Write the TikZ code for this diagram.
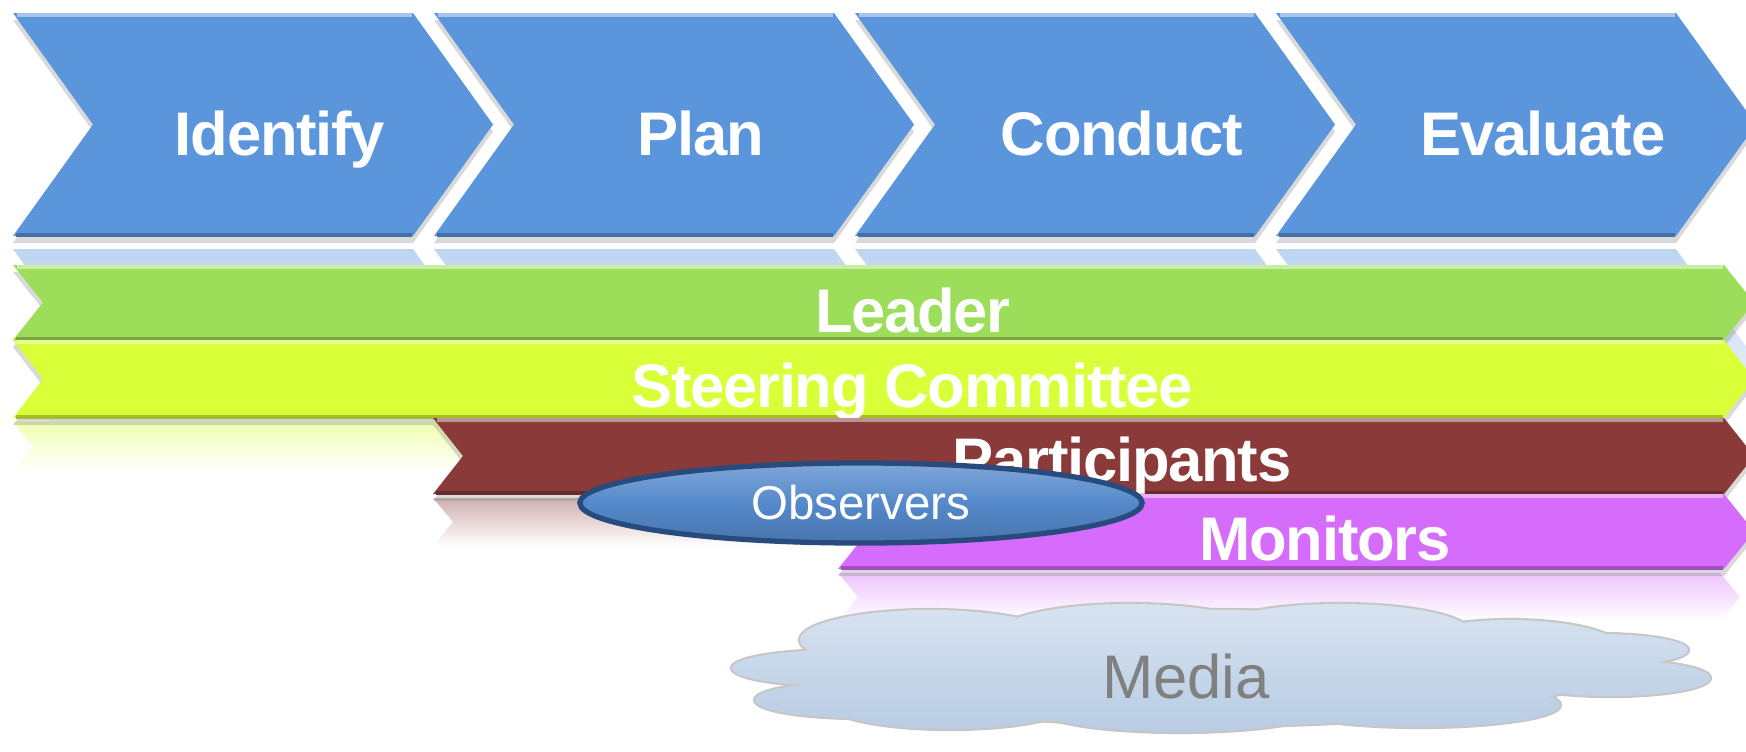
\documentclass[tikz,border=0pt]{standalone}
\usepackage{fontspec}
\setmainfont{Liberation Sans}
\newfontfamily\tightfont[LetterSpace=-2]{Liberation Sans}
\usetikzlibrary{shapes.geometric, positioning, shadows}

\definecolor{stageblue}{RGB}{91,150,220}
\definecolor{leadergreen}{RGB}{156,222,90}
\definecolor{steeringyellow}{RGB}{216,255,56}
\definecolor{participantred}{RGB}{139,58,58}
\definecolor{monitorviolet}{RGB}{213,108,251}
\definecolor{observerblue}{RGB}{85,137,203}
\definecolor{observeredge}{RGB}{40,75,125}
\definecolor{mediablue}{RGB}{184,204,228}
\definecolor{mediagray}{RGB}{128,128,128}

% arrow band: colour, left x, top y, height, depth of point, x of point
\newcommand{\band}[6]{%
  \fill[#1, drop shadow={opacity=.3, shadow xshift=0pt, shadow yshift=-2pt}]
    (#2,#3) -- ({#6-#5},#3) -- (#6,{#3+#4/2}) -- ({#6-#5},{#3+#4})
    -- (#2,{#3+#4}) -- ({#2+#5},{#3+#4/2}) -- cycle;
  \draw[#1!55!white, line width=1pt] ({#2+4},{#3+2}) -- ({#6-#5-1},{#3+2});
  \draw[#1!75!black, line width=1pt] ({#2+3},{#3+#4-1}) -- ({#6-#5-1},{#3+#4-1});
}
% faded mirror image under a band
\newcommand{\bandreflect}[6]{%
  \shade[top color=#1!40!white, bottom color=white]
    (#2,#3) -- ({#6-#5},#3) -- (#6,{#3+#4/2}) -- ({#6-#5},{#3+#4})
    -- (#2,{#3+#4}) -- ({#2+#5},{#3+#4/2}) -- cycle;
}

\begin{document}
\begin{tikzpicture}[x=0.01cm, y=-0.01cm]
    \tikzstyle{stagetext} = [font=\tightfont\bfseries\fontsize{17.5}{20}\selectfont, text=white, anchor=base]
    \tikzstyle{roletext} = [font=\tightfont\bfseries\fontsize{17.5}{20}\selectfont, text=white, anchor=base]

    \useasboundingbox (0,0) rectangle (1746,751);

    % Stages
    \foreach \i in {0,...,3}
        \bandreflect{stageblue}{13+421*\i}{249}{223}{80}{493+421*\i};
    \foreach \i in {0,...,3}
        \band{stageblue}{13+421*\i}{13}{223}{80}{493+421*\i};
    \node[stagetext] (identify) at (280,155) {Identify};
    \node[stagetext] (plan) at (701,155) {Plan};
    \node[stagetext] (conduct) at (1122,155) {Conduct};
    \node[stagetext] (evaluate) at (1543,155) {Evaluate};

    % Leader
    \band{leadergreen}{13}{265}{75}{30}{1754}
    \node[roletext] (leader) at (913,332) {Leader};

    % Steering Committee
    \bandreflect{steeringyellow}{13}{422}{50}{20}{1740}
    \band{steeringyellow}{13}{340}{78}{30}{1754}
    \node[roletext] (steering) at (912,407) {Steering Committee};

    % Participants
    \bandreflect{participantred}{433}{498}{48}{20}{1740}
    \band{participantred}{433}{418}{76}{30}{1754}
    \node[roletext] (participants) at (1122,481) {Participants};

    % Monitors
    \bandreflect{monitorviolet}{838}{573}{48}{20}{1740}
    \band{monitorviolet}{838}{494}{75}{30}{1754}
    \node[roletext] (monitors) at (1325,560) {Monitors};

    % Observers
    \node[ellipse, draw=observeredge, line width=1.5pt, top color=observerblue!75!white,
          bottom color=observerblue!85!black, middle color=observerblue,
          minimum width=5.62cm, minimum height=0.8cm, inner sep=0pt,
          text=white, font=\fontsize{13.5}{16}\selectfont] (observers) at (861,503) {Observers};

    % Media
    \foreach \cx/\cy/\rx/\ry in {1210/668/390/58, 930/640/130/30, 1130/632/130/28, 1340/632/130/28,
        1510/648/110/28, 840/668/108/18, 860/700/105/18, 1600/650/88/16, 1610/678/100/18,
        950/705/120/24, 1180/710/140/22, 1420/705/140/22}
        \draw[gray!45, line width=1.2pt] (\cx,\cy) ellipse [x radius=\rx, y radius=\ry];
    \shade[top color=mediablue!55!white, bottom color=mediablue]
        \foreach \cx/\cy/\rx/\ry in {1210/668/390/58, 930/640/130/30, 1130/632/130/28, 1340/632/130/28,
        1510/648/110/28, 840/668/108/18, 860/700/105/18, 1600/650/88/16, 1610/678/100/18,
        950/705/120/24, 1180/710/140/22, 1420/705/140/22} { (\cx,\cy) ellipse [x radius=\rx, y radius=\ry] };
    \node[font=\fontsize{17.5}{20}\selectfont, text=mediagray] (media) at (1186,676) {Media};
\end{tikzpicture}
\end{document}
